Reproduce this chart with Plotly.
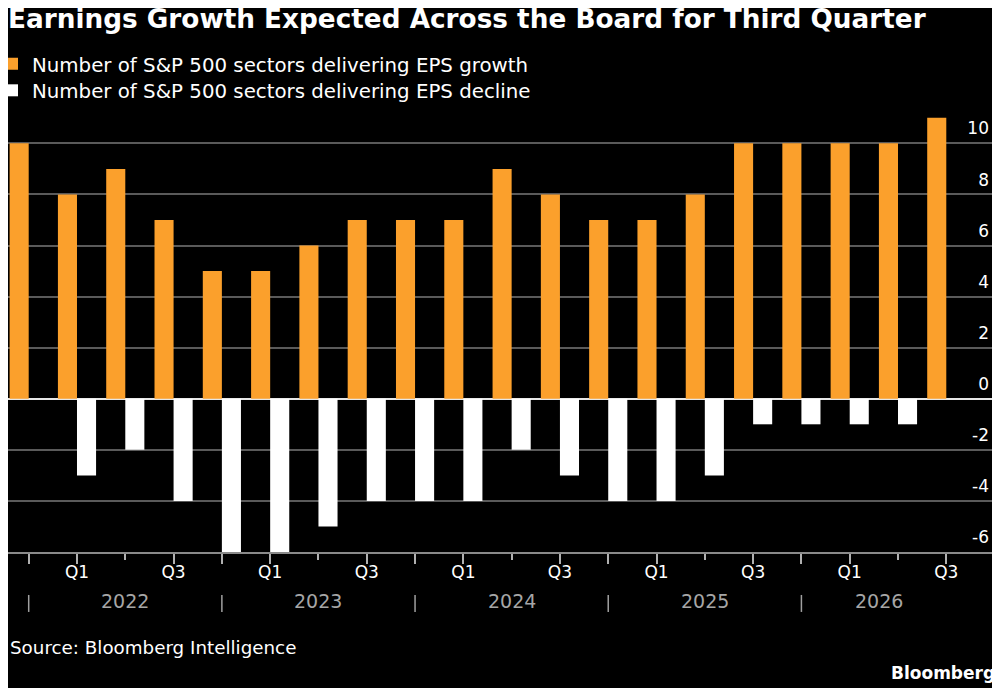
import plotly.graph_objects as go

# Quarterly counts of S&P 500 sectors (11 sectors)
quarters = ["Q4 2021", "Q1 2022", "Q2 2022", "Q3 2022", "Q4 2022",
            "Q1 2023", "Q2 2023", "Q3 2023", "Q4 2023",
            "Q1 2024", "Q2 2024", "Q3 2024", "Q4 2024",
            "Q1 2025", "Q2 2025", "Q3 2025", "Q4 2025",
            "Q1 2026", "Q2 2026", "Q3 2026"]
growth = [10, 8, 9, 7, 5, 5, 6, 7, 7, 7, 9, 8, 7, 7, 8, 10, 10, 10, 10, 11]
decline = [0, -3, -2, -4, -6, -6, -5, -4, -4, -4, -2, -3, -4, -4, -3, -1, -1, -1, -1, 0]
y_ticks = [-6, -4, -2, 0, 2, 4, 6, 8, 10]

ORANGE = "#fba02c"
FONT = "DejaVu Sans"

# the page body adds an 8px margin, so the figure is 8px smaller each way
W, H = 992, 680
T, B, L, R = 105.6, 136, 0, 3
plot_w = W - L - R
plot_h = H - T - B


def py(pix):
    # figure pixel row -> paper y
    return (H - B - pix) / plot_h


x = list(range(len(quarters)))
qs = [q.split()[0] for q in quarters]
yrs = [q.split()[1] for q in quarters]

# major ticks at Q4/Q1/Q3, labels only on Q1 and Q3
tickvals = [i for i in x if qs[i] in ("Q1", "Q3", "Q4")]
ticktext = [qs[i] if qs[i] != "Q4" else "" for i in tickvals]

fig = go.Figure()
fig.add_trace(go.Bar(x=x, y=growth, name="Number of S&P 500 sectors delivering EPS growth",
                     marker=dict(color=ORANGE, line=dict(width=0)), legend="legend"))
fig.add_trace(go.Bar(x=x, y=decline, name="Number of S&P 500 sectors delivering EPS decline",
                     marker=dict(color="#ffffff", line=dict(width=0)), legend="legend2"))

# year separators sit on the Q4 ticks, year labels centered between them
seps = [i for i in x if qs[i] == "Q4"]
shapes = []
annotations = []
for s in seps:
    shapes.append(dict(type="line", xref="x", yref="paper", x0=s, x1=s,
                       y0=py(587), y1=py(604), line=dict(color="#a0a0a0", width=1.5)))
    year = str(int(yrs[s]) + 1)
    end = min(s + 4, len(x) - 1 + 0.2)
    annotations.append(dict(text=year, x=(s + end) / 2, xref="x", y=py(593), yref="paper",
                            showarrow=False, font=dict(family=FONT, size=19, color="#a6a6a6"),
                            xanchor="center", yanchor="middle"))

annotations.append(dict(text="Source: Bloomberg Intelligence", x=0, xref="paper", xanchor="left",
                        y=py(640), yref="paper", yanchor="middle", showarrow=False,
                        font=dict(family=FONT, size=18.3, color="#ffffff")))
annotations.append(dict(text="<b>Bloomberg</b>", x=1.0, xref="paper", xanchor="right",
                        y=py(665), yref="paper", yanchor="middle", showarrow=False,
                        font=dict(family=FONT, size=17, color="#ffffff")))

legend_style = dict(xanchor="left", yanchor="top", x=-16 / plot_w,
                    font=dict(family=FONT, size=19.8, color="#ffffff"),
                    bgcolor="rgba(0,0,0,0)", itemclick=False, itemdoubleclick=False)

fig.update_layout(
    width=W, height=H,
    paper_bgcolor="#000000", plot_bgcolor="#000000",
    margin=dict(l=L, r=R, t=T, b=B, autoexpand=False),
    font=dict(family=FONT, color="#ffffff", size=17),
    barmode="group", bargap=0.21, bargroupgap=0,
    showlegend=True,
    legend=dict(y=py(36), **legend_style),
    legend2=dict(y=py(62.5), **legend_style),
    title=dict(text="<b>Earnings Growth Expected Across the Board for Third Quarter</b>",
               x=0, xref="paper", xanchor="left", y=1 - 11 / H, yanchor="middle",
               font=dict(family=FONT, size=26.3, color="#ffffff")),
    xaxis=dict(range=[-0.4286, 20.05], tickvals=tickvals, ticktext=ticktext,
               ticks="outside", ticklen=10, tickwidth=1.5, tickcolor="#b0b0b0",
               ticklabelstandoff=-6,
               minor=dict(ticks="outside", dtick=1, tick0=0, ticklen=6, tickwidth=1.5,
                          tickcolor="#b0b0b0"),
               showline=True, linecolor="#8a8a8a", linewidth=1.5,
               showgrid=False, zeroline=False,
               tickfont=dict(family=FONT, size=17, color="#ffffff"), fixedrange=True),
    yaxis=dict(range=[-6, 11.15], side="right", tickvals=y_ticks,
               ticktext=[str(v) for v in y_ticks],
               ticklabelposition="inside top", ticks="",
               ticklabelshift=-3, ticklabelstandoff=5,
               showgrid=True, gridcolor="#5a5a5a", gridwidth=1.5,
               zeroline=True, zerolinecolor="#e6e6e6", zerolinewidth=1.8,
               tickfont=dict(family=FONT, size=17, color="#ffffff"), fixedrange=True),
    shapes=shapes,
    annotations=annotations,
)

fig.write_html("out.html")
